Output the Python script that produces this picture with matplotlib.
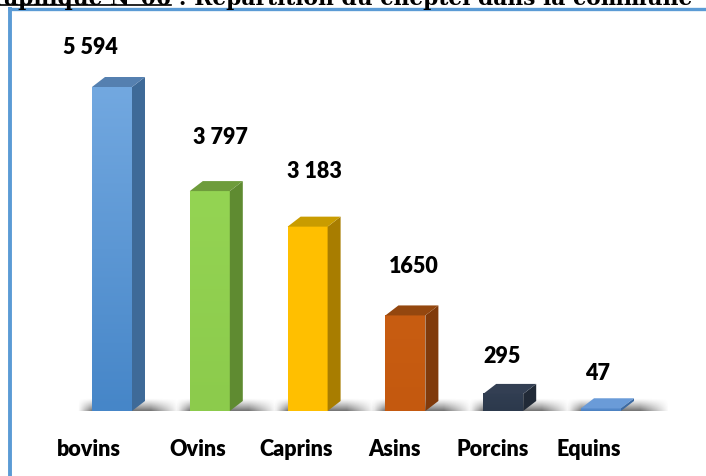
import numpy as np
import matplotlib.pyplot as plt
from matplotlib.patches import Polygon
from matplotlib.lines import Line2D

# données
categories = ["bovins", "Ovins", "Caprins", "Asins", "Porcins", "Equins"]
effectifs = [5594, 3797, 3183, 1650, 295, 47]
etiquettes = ["5 594", "3 797", "3 183", "1650", "295", "47"]

# couleurs : face avant (haut, bas), côté, dessus
front_top = ["#72a8e0", "#94d453", "#ffc000", "#c85d12", "#313e52", "#5b8fd0"]
front_bot = ["#4686c8", "#8ccb4c", "#ffbf00", "#c4590f", "#2c394c", "#4a80c0"]
side_col = ["#3e6a98", "#5f8b31", "#a87d00", "#803a0b", "#212a37", "#3c6aa2"]
top_col = ["#5580b0", "#6e9c3b", "#c99c00", "#94470f", "#333f53", "#6a9bd8"]

# décalages des étiquettes (pixels) -- mise en page
lab_dx = [-22, 11, 7, 8, -1, -3]
lab_dy = [41, 55, 56, 50, 38, 36]
cat_dx = [-23, -12, -11, -11, -11, -12]

W, H = 706, 477
fig = plt.figure(figsize=(W / 100, H / 100), dpi=100)

# axes : centre barre 0 à x=112px, pas 97.8px ; base à y=412px
step = 97.8
ppu = 324 / 5594.0
left_px = 112 - step
right_px = 112 + step * 6
top_px = 14
ax = fig.add_axes([left_px / W, (H - 412) / H, (right_px - left_px) / W, (412 - top_px) / H])
ax.set_xlim(-1, 6)
ax.set_ylim(0, (412 - top_px) / ppu)
ax.axis("off")

w = 40 / step
ddx = 13 / step
ddy = 10 / ppu
px_x = 1 / step
px_y = 1 / ppu

for i, v in enumerate(effectifs):
    x0, x1 = i - w / 2, i + w / 2
    # ombre portée
    sh_l, sh_r = x0 - 14 * px_x, x1 + ddx + 34 * px_x
    sh_b, sh_t = -1.5 * px_y, 13 * px_y
    nx, ny = 120, 20
    u = np.linspace(0, 1, nx)
    t = np.linspace(0, 1, ny)[:, None]
    xs = sh_l + u * (sh_r - sh_l)
    hor = np.clip((xs - sh_l) / (14 * px_x), 0, 1) * np.clip((sh_r - xs) / (28 * px_x), 0, 1)
    ver = (1 - t) ** 1.2
    alpha = 0.8 * hor[None, :] * ver
    img = np.zeros((ny, nx, 4))
    img[..., :3] = 0.22
    img[..., 3] = alpha
    ax.imshow(img, extent=[sh_l, sh_r, sh_b, sh_t], origin="lower", aspect="auto",
              zorder=1, interpolation="bilinear")

    # face avant en dégradé
    c1 = np.array(plt.matplotlib.colors.to_rgb(front_top[i]))
    c2 = np.array(plt.matplotlib.colors.to_rgb(front_bot[i]))
    g = np.linspace(0, 1, 64)[:, None]
    grad = (c2[None, :] * (1 - g) + c1[None, :] * g)[:, None, :]
    ax.imshow(grad, extent=[x0, x1, 0, v], origin="lower", aspect="auto", zorder=3,
              interpolation="bilinear")
    # côté
    ax.add_patch(Polygon([(x1, 0), (x1 + ddx, ddy), (x1 + ddx, v + ddy), (x1, v)],
                         closed=True, fc=side_col[i], ec="none", zorder=3))
    # dessus
    ax.add_patch(Polygon([(x0, v), (x1, v), (x1 + ddx, v + ddy), (x0 + ddx, v + ddy)],
                         closed=True, fc=top_col[i], ec="none", zorder=3))

    ax.annotate(etiquettes[i], (i, v), xytext=(lab_dx[i], lab_dy[i]),
                textcoords="offset pixels", ha="center", va="center",
                fontsize=15.5, fontweight="heavy", family="Lato", color="black")
    ax.annotate(categories[i], (i, 0), xytext=(cat_dx[i], -38),
                textcoords="offset pixels", ha="center", va="center",
                fontsize=15.5, fontweight="heavy", family="Lato", color="black")

# cadre bleu
fig.add_artist(Line2D([8 / W, 1], [1 - 9.5 / H, 1 - 9.5 / H], color="#5b9bd5", lw=2.4,
                      solid_capstyle="butt"))
fig.add_artist(Line2D([10 / W, 10 / W], [0, 1 - 8 / H], color="#5b9bd5", lw=2.8,
                      solid_capstyle="butt"))

# titre (coupé en haut comme l'original)
fig.canvas.draw()
r = fig.canvas.get_renderer()
t1 = fig.text(-26 / W, 1 - 4.5 / H, "Graphique N°06", fontsize=15.7, fontweight="bold",
              family="DejaVu Serif", va="baseline", ha="left")
bb = t1.get_window_extent(r)
fig.text(bb.x1 / W, 1 - 4.5 / H, " : Répartition du cheptel dans la commune", fontsize=15.7,
         fontweight="bold", family="DejaVu Serif", va="baseline", ha="left")
fig.add_artist(Line2D([0, bb.x1 / W], [1 - 6.2 / H, 1 - 6.2 / H], color="black", lw=1.2))

fig.savefig("out.png", dpi=100)
